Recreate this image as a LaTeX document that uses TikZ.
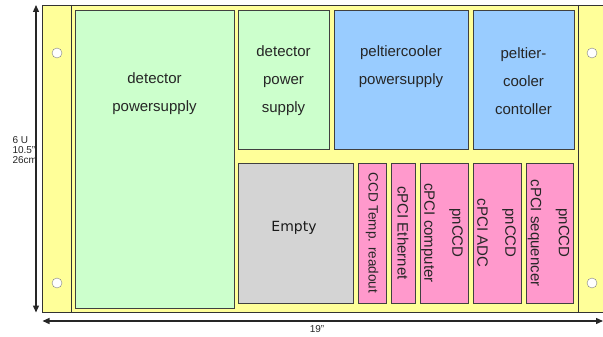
\documentclass[tikz,border=0pt]{standalone}
\usepackage{fontspec}
\setmainfont{Liberation Sans}
\newfontfamily\emptyfont{DejaVu Sans}
\usepackage{tikz}
\usetikzlibrary{arrows.meta}

\definecolor{rackyellow}{HTML}{FFFF99}
\definecolor{psgreen}{HTML}{CCFFCC}
\definecolor{coolblue}{HTML}{99CCFF}
\definecolor{cardpink}{HTML}{FF99CC}
\definecolor{slotgray}{HTML}{D4D4D4}
\definecolor{edgegray}{HTML}{404040}

\begin{document}
\begin{tikzpicture}[x=1pt, y=-1pt,
  unit/.style={draw=edgegray, line width=0.9pt},
  txt/.style={font=\fontsize{15}{28}\selectfont, align=center, text=black!85},
  card/.style={txt, rotate=-90},
  dim/.style={font=\fontsize{10}{10}\selectfont, text=black!85}]
  \useasboundingbox (0,0) rectangle (603,337);
  \clip (0,0) rectangle (603,337);

  % Rack corners
  \coordinate (tl) at (42.5,5);
  \coordinate (bl) at (42.5,312.5);
  \coordinate (br) at (603,312.5);

  % Front panel with the two mounting ears
  \filldraw[fill=rackyellow, draw=black!80, line width=0.9pt] (tl) rectangle (620,312.5);
  \draw[black!80, line width=0.9pt] (71,5) -- (71,312.5);
  \draw[black!80, line width=0.9pt] (578,5) -- (578,312.5);

  % Mounting holes
  \foreach \hx in {57,592}
    \foreach \hy in {53,283}
      \filldraw[fill=white, draw=gray] (\hx,\hy) circle (5);

  % Power supplies and coolers
  \filldraw[unit, fill=psgreen] (75,10.5) rectangle (234,308);
  \filldraw[unit, fill=psgreen] (238,10.5) rectangle (329,149);
  \filldraw[unit, fill=coolblue] (334,10.5) rectangle (468,149);
  \filldraw[unit, fill=coolblue] (473,10.5) rectangle (574,149);

  % Free slot and cPCI cards
  \filldraw[unit, fill=slotgray] (238,163) rectangle (353,303);
  \filldraw[unit, fill=cardpink] (358,163) rectangle (386,303);
  \filldraw[unit, fill=cardpink] (391,163) rectangle (415,303);
  \filldraw[unit, fill=cardpink] (420,163) rectangle (468,303);
  \filldraw[unit, fill=cardpink] (473,163) rectangle (521,303);
  \filldraw[unit, fill=cardpink] (526,163) rectangle (573.5,303);

  % Labels
  \node[txt] (detps) at (154.5,94) {detector\\powersupply};
  \node[txt] (detpwr) at (283.5,81) {detector\\power\\supply};
  \node[txt] (peltps) at (401,67) {peltiercooler\\powersupply};
  \node[txt] (peltctl) at (523.5,81) {peltier-\\cooler\\contoller};
  \node[font=\emptyfont\fontsize{14}{16}\selectfont, text=black!90] (empty) at (294,228) {Empty};

  \node[card, font=\fontsize{13.5}{28}\selectfont] (temp) at (372,233) {CCD Temp. readout};
  \node[card] (ether) at (403,233) {cPCI Ethernet};
  \node[card] (comp) at (442,233) {pnCCD\\cPCI computer};
  \node[card] (adc) at (496.5,233) {pnCCD\\cPCI ADC};
  \node[card] (seq) at (548.5,233) {pnCCD\\cPCI sequencer};

  % Dimensions
  \draw[{Triangle[length=7pt,width=6pt]}-{Triangle[length=7pt,width=6pt]}, line width=1.3pt, black!85]
    ([xshift=-6.5pt]tl) -- ([xshift=-6.5pt]bl);
  \draw[{Triangle[length=7pt,width=6pt]}-{Triangle[length=7pt,width=6pt]}, line width=1.3pt, black!85]
    ([yshift=-8.5pt]bl) -- ([yshift=-8.5pt]br);
  \node[dim, align=left, anchor=west] (height) at (9,150) {6 U\\10.5"\\26cm};
  \node[dim] (width) at (317,329) {19"};
\end{tikzpicture}
\end{document}
